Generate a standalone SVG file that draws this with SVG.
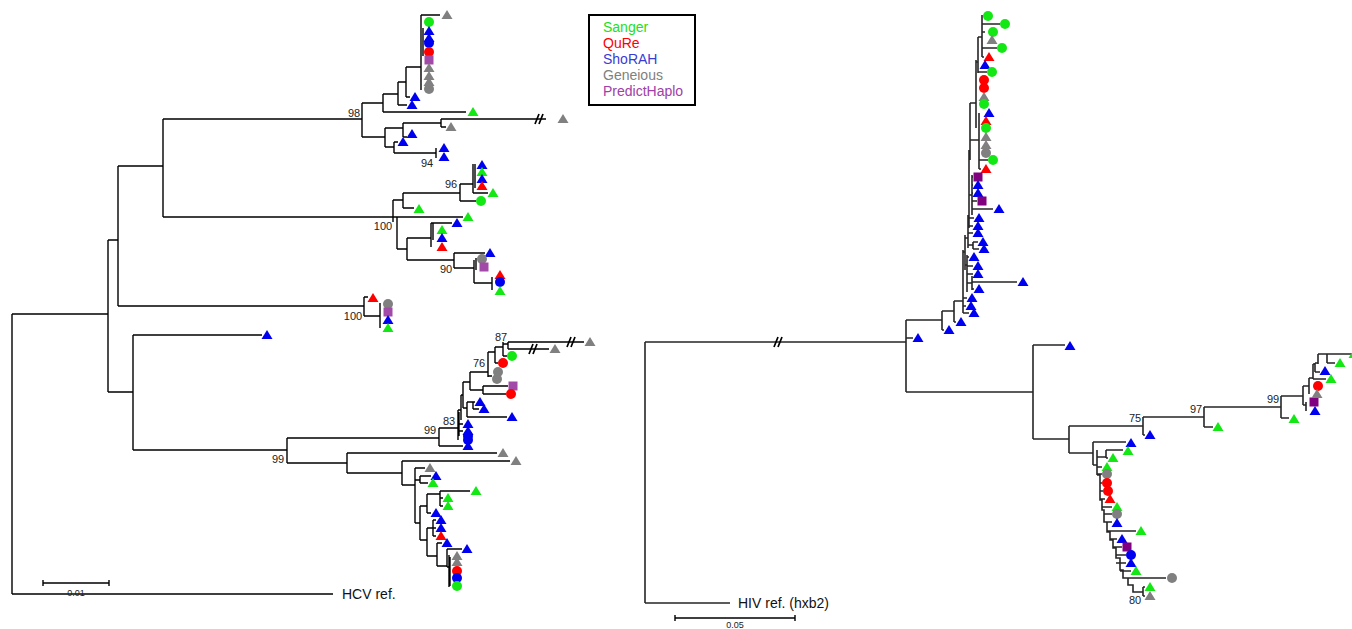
<svg xmlns="http://www.w3.org/2000/svg" xmlns:xlink="http://www.w3.org/1999/xlink" width="1352" height="629" viewBox="0 0 1352 629">
<style>
.e{fill:none;stroke:#000;stroke-width:1.4}
.e2{fill:none;stroke:#262626;stroke-width:1.6}
.sl{fill:none;stroke:#000;stroke-width:1.7}
.G{fill:#14e814}.R{fill:#f00}.B{fill:#0000f0}.Y{fill:#808080}.P{fill:#a24aa8}.Q{fill:#800080}
.bs{font-family:"Liberation Sans",Arial,sans-serif;font-size:11px;fill:#222;text-anchor:middle}
.lab{font-family:"Liberation Sans",Arial,sans-serif;font-size:14px;fill:#111}
.lg{font-family:"Liberation Sans",Arial,sans-serif;font-size:14px}
.sc{font-family:"Liberation Sans",Arial,sans-serif;font-size:9px;fill:#222;text-anchor:middle}
</style>
<defs>
<path id="t" d="M0,-5 L5.5,4 L-5.5,4Z"/>
<circle id="c" r="5"/>
<rect id="s" x="-4.5" y="-4.5" width="9" height="9"/>
</defs>
<rect width="1352" height="629" fill="#fff"/>

<g id="connectors">
<path class="e" d="M12,314V594M12,594H333M12,314H108M108,240V392M108,240H118M118,166V306M118,166H163M163,119V217M163,119H362M362,103V137M362,103H383M383,94V112M383,112H466M383,94H398M398,82V105M398,105H407M398,82H406M406,67V97M406,97H410M406,67H421M421,15V90M423,28V56M421,15H440M362,137H385M385,128V147M385,128H403M403,123V137M403,123H441M441,119V127M441,119H546M441,127H446M403,137H407M385,147H394M394,142V153M394,142H398M394,153H436M436,148V158"/>
<path class="e" d="M163,217H393M393,200V222M397,217V249M393,200H403M403,193V208M403,193H460M460,184V201M460,184H473M473,164V193M475,164V188M473,193H488M460,201H476M403,208H414M393,217H463M397,249H407M407,238V260M407,238H431M431,223V247M433,223V240M431,223H452M407,260H454M454,253V268M454,253H485M454,268H474M474,260V283M476,258V270M474,283H492M492,277V290"/>
<path class="e" d="M118,306H364M364,297V316M364,297H368M364,316H380M380,303V328"/>
<path class="e" d="M108,392H133M133,335V450M133,335H262M133,450H287M287,438V463M287,438H439M439,428V446M439,428H458M439,446H463M458,410V440M459,412V436M458,424H463M458,431H463M458,410H461M461,395V420M461,395H463M463,382V408M463,382H470M470,372V390M463,408H467M467,402V417M467,402H475M473,402V409M473,409H479M467,417H507M470,372H488M488,352V377M488,352H495M495,347V363M495,363H498M488,376H492M495,347H503M503,342V356M503,356H507M503,344H508M508,342V349M508,342H584M508,349H549M470,390H483M483,386V394M483,386H508M483,394H506"/>
<path class="e" d="M287,463H347M347,453V473M347,453H497M347,473H402M402,461V485M402,461H510M402,485H415M415,468V523M415,468H425M415,480H420M420,476V483M420,476H431M420,483H428M415,523H420M420,506V540M420,506H427M427,494V513M427,494H440M440,491V506M440,491H470M440,498H443M440,506H443M427,513H431M420,540H427M427,528V556M427,528H433M433,520V536M433,520H436M433,528H436M433,536H436M427,556H437M437,543V566M437,543H442M437,566H447M447,549V567M447,549H462M447,567H449M449,555V587M450,557V586"/>
<path class="sl" d="M535,124L539,114M539,124L543,114M567,347L571,337M571,347L575,337M529,354L533,344M533,354L537,344"/>

<path class="e2" d="M645,342V603M645,603H730M645,342H906M906,320V392M906,338H913M906,392H1033M906,320H942M942,311V330M942,330H944M942,311H954M954,301V322M954,322H956M954,301H963M963,250V313M963,313H969M963,306H966M963,298H967M965,235V270M963,252H965M967,255V292M965,265H967M972,276V290M967,283H972M972,282H1017M972,289H974M967,274H973M967,266H973M967,257H969M968,215V248M965,238H968M973,242V249M968,245H973M973,242H978M973,249H979M968,226H973M968,233H973M968,218H974M969,150V228M968,220H969M972,175V215M969,195H972M972,209H993M972,201H977M972,185H973M972,193H973M972,177H973M970,103V160M979,113V169M970,140H979M979,169H981M979,160H988M976,60V128M970,103H976M978,37V73M976,62H978M978,72H987M982,15V57M978,37H982M982,24H1000M982,48H997M982,57H984M982,32H985"/>
<path class="sl" d="M774,347L778,337M778,347L782,337"/>
<path class="e2" d="M1033,345V439M1033,345H1065M1033,439H1069M1069,426V453M1069,426H1143M1143,417V435M1143,435H1145M1143,417H1204M1204,407V427M1204,427H1213M1204,407H1281M1281,396V418M1281,418H1289M1281,396H1303M1303,386V405M1303,405H1306M1306,402V411M1303,386H1309M1309,378V394M1309,378H1313M1313,364V379M1313,379H1326M1313,364H1315M1315,363V372M1315,372H1320M1315,363H1318M1318,354V364M1318,354H1327M1327,354V363M1327,354H1352M1327,363H1335"/>
<path class="e2" d="M1069,453H1093M1093,442V465M1093,442H1126M1093,465H1097M1097,450V475M1097,457H1106M1106,450V458M1106,450H1123M1106,458H1108M1097,467H1102M1097,474H1102M1097,475H1100V500H1102V510H1104V522H1107V532H1110V540H1113V548H1116V558H1120V570H1123V578H1128V585H1133V592H1143M1143,587V596M1100,483H1102M1100,491H1103M1100,499H1105M1102,507H1112M1104,514H1112M1104,522H1112M1107,531H1136M1110,539H1117M1113,547H1122M1116,555H1126M1116,563H1126M1120,571H1131M1123,578H1166M1143,587H1145M1143,596H1145"/>
</g>

<g id="tips-left-top">
<use href="#t" x="447" y="15" class="Y"/><use href="#c" x="429" y="22" class="G"/><use href="#t" x="429" y="31" class="B"/><use href="#t" x="429" y="38" class="B"/><use href="#c" x="429" y="43" class="B"/><use href="#c" x="429" y="52" class="R"/><use href="#s" x="429" y="60" class="P"/><use href="#t" x="429" y="68" class="Y"/><use href="#t" x="429" y="76" class="Y"/><use href="#t" x="429" y="82" class="Y"/><use href="#c" x="429" y="89" class="Y"/>
<use href="#t" x="415" y="97" class="B"/><use href="#t" x="412" y="105" class="B"/><use href="#t" x="473" y="112" class="G"/><use href="#t" x="563" y="119" class="Y"/><use href="#t" x="451" y="127" class="Y"/><use href="#t" x="412" y="134" class="B"/><use href="#t" x="403" y="142" class="B"/><use href="#t" x="444" y="148" class="B"/><use href="#t" x="444" y="157" class="B"/>
</g>
<g id="tips-left-mid">
<use href="#t" x="482" y="165" class="B"/><use href="#t" x="482" y="172" class="G"/><use href="#t" x="482" y="179" class="B"/><use href="#t" x="482" y="186" class="R"/><use href="#t" x="493" y="193" class="G"/><use href="#c" x="481" y="201" class="G"/><use href="#t" x="419" y="209" class="G"/><use href="#t" x="468" y="217" class="G"/><use href="#t" x="457" y="223" class="B"/><use href="#t" x="442" y="230" class="G"/><use href="#t" x="442" y="238" class="B"/><use href="#t" x="442" y="247" class="R"/><use href="#t" x="490" y="253" class="B"/><use href="#c" x="482" y="259" class="Y"/><use href="#s" x="484" y="267" class="P"/><use href="#t" x="500" y="275" class="R"/><use href="#c" x="500" y="282" class="B"/><use href="#t" x="500" y="291" class="G"/>
</g>
<g id="tips-left-100">
<use href="#t" x="373" y="298" class="R"/><use href="#c" x="388" y="304" class="Y"/><use href="#s" x="388" y="312" class="P"/><use href="#t" x="388" y="320" class="B"/><use href="#t" x="388" y="328" class="G"/>
</g>
<g id="tips-left-low">
<use href="#t" x="267" y="335" class="B"/>
<use href="#t" x="590" y="342" class="Y"/><use href="#t" x="555" y="349" class="Y"/><use href="#c" x="512" y="356" class="G"/><use href="#c" x="503" y="363" class="R"/><use href="#c" x="498" y="372" class="Y"/><use href="#c" x="497" y="379" class="Y"/><use href="#s" x="513" y="386" class="P"/><use href="#c" x="511" y="394" class="R"/><use href="#t" x="480" y="402" class="B"/><use href="#t" x="484" y="409" class="B"/><use href="#t" x="512" y="417" class="B"/><use href="#t" x="468" y="424" class="B"/><use href="#t" x="468" y="431" class="B"/><use href="#c" x="468" y="436" class="B"/><use href="#c" x="468" y="440" class="B"/><use href="#t" x="468" y="446" class="B"/>
<use href="#t" x="503" y="453" class="Y"/><use href="#t" x="516" y="461" class="Y"/><use href="#t" x="430" y="468" class="Y"/><use href="#t" x="436" y="476" class="B"/><use href="#t" x="433" y="483" class="G"/><use href="#t" x="476" y="491" class="G"/><use href="#t" x="448" y="498" class="G"/><use href="#t" x="448" y="506" class="G"/><use href="#t" x="436" y="513" class="B"/><use href="#t" x="441" y="520" class="B"/><use href="#t" x="441" y="528" class="B"/><use href="#t" x="441" y="536" class="R"/><use href="#t" x="447" y="543" class="B"/><use href="#t" x="467" y="549" class="B"/><use href="#t" x="457" y="556" class="Y"/><use href="#t" x="457" y="562" class="Y"/><use href="#c" x="457" y="571" class="R"/><use href="#c" x="457" y="578" class="B"/><use href="#c" x="457" y="586" class="G"/>
</g>

<g id="tips-right-top">
<use href="#c" x="988" y="16" class="G"/><use href="#c" x="1005" y="24" class="G"/><use href="#c" x="993" y="32" class="G"/><use href="#t" x="992" y="40" class="Y"/><use href="#c" x="1002" y="48" class="G"/><use href="#t" x="989" y="57" class="R"/><use href="#t" x="985" y="65" class="B"/><use href="#c" x="992" y="72" class="G"/><use href="#c" x="984" y="80" class="R"/><use href="#c" x="984" y="88" class="R"/><use href="#t" x="984" y="97" class="Y"/><use href="#c" x="984" y="104" class="G"/><use href="#t" x="989" y="113" class="B"/><use href="#t" x="986" y="121" class="R"/><use href="#c" x="986" y="128" class="G"/><use href="#t" x="986" y="137" class="Y"/><use href="#t" x="986" y="145" class="Y"/><use href="#c" x="986" y="153" class="Y"/><use href="#c" x="993" y="160" class="G"/><use href="#t" x="986" y="169" class="R"/><use href="#s" x="978" y="177" class="Q"/><use href="#t" x="978" y="185" class="B"/><use href="#t" x="978" y="193" class="B"/><use href="#s" x="982" y="201" class="Q"/><use href="#t" x="999" y="209" class="B"/><use href="#t" x="979" y="218" class="B"/><use href="#t" x="978" y="226" class="B"/><use href="#t" x="978" y="233" class="B"/><use href="#t" x="983" y="242" class="B"/><use href="#t" x="984" y="249" class="B"/><use href="#t" x="974" y="257" class="B"/><use href="#t" x="978" y="266" class="B"/><use href="#t" x="978" y="274" class="B"/><use href="#t" x="1023" y="282" class="B"/><use href="#t" x="979" y="289" class="B"/><use href="#t" x="972" y="298" class="B"/><use href="#t" x="971" y="306" class="B"/><use href="#t" x="974" y="313" class="B"/><use href="#t" x="961" y="322" class="B"/><use href="#t" x="949" y="330" class="B"/><use href="#t" x="918" y="338" class="B"/>
</g>
<g id="tips-right-low">
<use href="#t" x="1070" y="346" class="B"/><use href="#t" x="1150" y="435" class="B"/><use href="#t" x="1218" y="427" class="G"/><use href="#t" x="1294" y="419" class="G"/><use href="#s" x="1314" y="402" class="Q"/><use href="#t" x="1315" y="411" class="B"/><use href="#c" x="1318" y="386" class="R"/><use href="#t" x="1317" y="394" class="Y"/><use href="#t" x="1331" y="379" class="G"/><use href="#t" x="1325" y="371" class="B"/><use href="#t" x="1340" y="363" class="G"/><use href="#t" x="1354" y="354" class="G"/>
<use href="#t" x="1131" y="443" class="B"/><use href="#t" x="1128" y="451" class="G"/><use href="#t" x="1113" y="458" class="G"/><use href="#t" x="1107" y="467" class="G"/><use href="#c" x="1107" y="474" class="Y"/><use href="#c" x="1107" y="483" class="R"/><use href="#c" x="1108" y="491" class="R"/><use href="#t" x="1110" y="499" class="R"/><use href="#t" x="1117" y="507" class="G"/><use href="#c" x="1117" y="514" class="Y"/><use href="#t" x="1117" y="523" class="B"/><use href="#t" x="1141" y="531" class="G"/><use href="#t" x="1122" y="539" class="B"/><use href="#s" x="1127" y="547" class="Q"/><use href="#c" x="1131" y="555" class="B"/><use href="#t" x="1131" y="563" class="B"/><use href="#t" x="1136" y="571" class="G"/><use href="#c" x="1172" y="578" class="Y"/><use href="#t" x="1150" y="587" class="G"/><use href="#t" x="1150" y="596" class="Y"/>
</g>

<g id="bootstrap">
<text class="bs" x="354" y="117">98</text><text class="bs" x="427" y="167">94</text><text class="bs" x="451" y="188">96</text><text class="bs" x="383" y="230">100</text><text class="bs" x="446" y="273">90</text><text class="bs" x="353" y="320">100</text><text class="bs" x="501" y="341">87</text><text class="bs" x="479" y="367">76</text><text class="bs" x="449" y="425">83</text><text class="bs" x="430" y="434">99</text><text class="bs" x="278" y="463">99</text>
<text class="bs" x="1135" y="422">75</text><text class="bs" x="1196" y="413">97</text><text class="bs" x="1273" y="403">99</text><text class="bs" x="1135" y="604">80</text>
</g>

<g id="hcv-ref"><text class="lab" x="342" y="599">HCV ref.</text></g>
<g id="hiv-ref"><text class="lab" x="738" y="608">HIV ref. (hxb2)</text></g>

<g id="scale-left">
<path class="e" d="M43,583H109M43,580V586M109,580V586"/>
<text class="sc" x="76" y="596">0.01</text>
</g>
<g id="scale-right">
<path class="e" d="M675,618H795M675,615V621M795,615V621"/>
<text class="sc" x="735" y="628">0.05</text>
</g>

<g id="legend">
<rect x="589" y="15" width="106" height="90" fill="#fff" stroke="#000" stroke-width="2"/>
<text class="lg" x="603" y="32" fill="#22e022">Sanger</text>
<text class="lg" x="603" y="48" fill="#f00">QuRe</text>
<text class="lg" x="603" y="64" fill="#3b3bd4">ShoRAH</text>
<text class="lg" x="603" y="80" fill="#808080">Geneious</text>
<text class="lg" x="603" y="96" fill="#a040a8">PredictHaplo</text>
</g>
</svg>
